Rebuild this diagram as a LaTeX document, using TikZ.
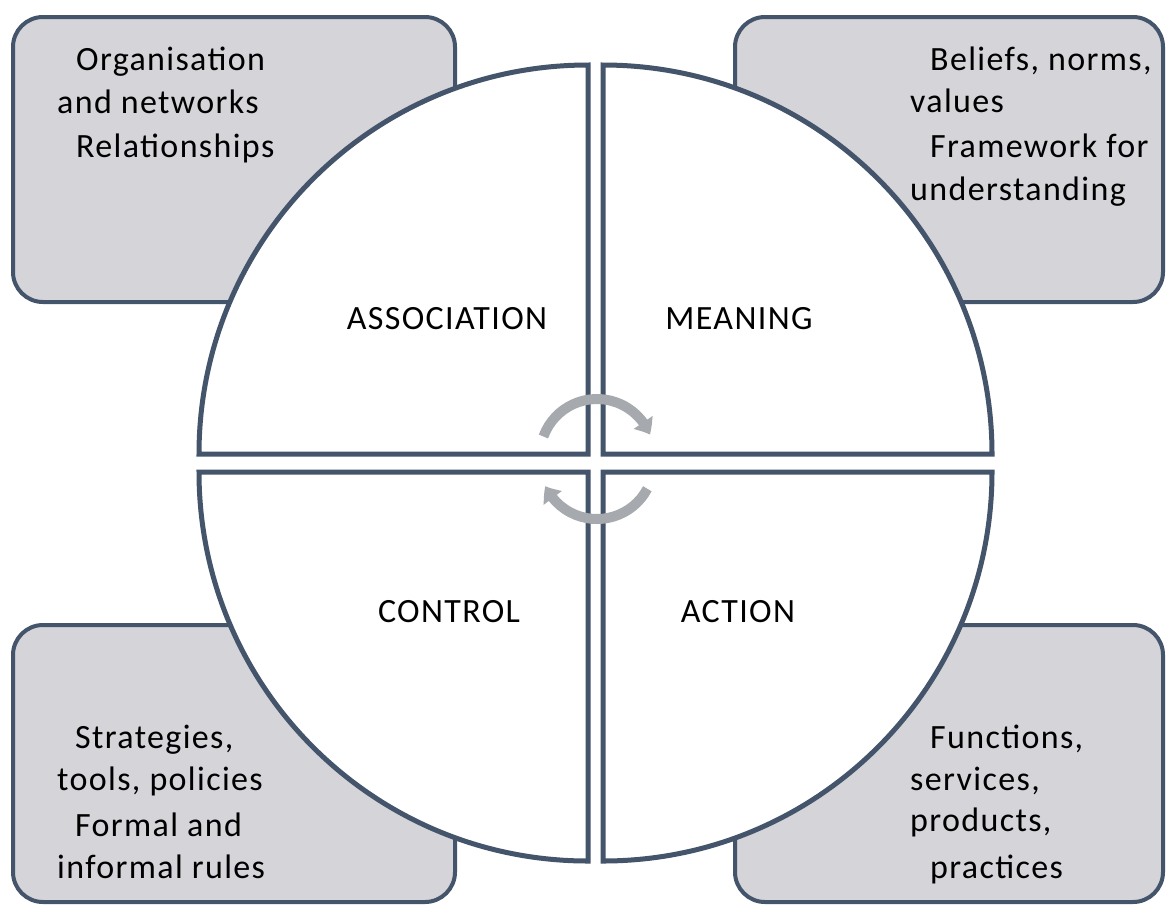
\documentclass[tikz,border=0pt]{standalone}
\usepackage{fontspec}
\setmainfont{Carlito}[LetterSpace=4]
\usetikzlibrary{arrows.meta,bending}
\definecolor{edge}{HTML}{44546A}
\definecolor{panel}{HTML}{D4D4D9}
\definecolor{cyclegray}{HTML}{A6A9AD}
\begin{document}
\begin{tikzpicture}[x=1pt,y=-1pt,
  panelbox/.style={draw=edge,fill=panel,line width=4pt,rounded corners=30pt},
  quarter/.style={draw=edge,fill=white,line width=5pt,line join=miter},
  txtline/.style={anchor=base west,inner sep=0pt,font=\fontsize{34}{42}\selectfont},
  title/.style={anchor=base,inner sep=0pt,font=\fontsize{34}{42}\selectfont},
  turn/.style={draw=cyclegray,line width=10pt,-{Triangle[width=22pt,length=14pt,bend]}}
]
\fill[white] (0,0) rectangle (1166,906);
\useasboundingbox (0,0) rectangle (1166,906);

% corner panels
\path[panelbox] (13,17) rectangle (455,302);
\path[panelbox] (735,17) rectangle (1163,302);
\path[panelbox] (13,625) rectangle (455,902);
\path[panelbox] (735,625) rectangle (1163,902);

% the four quarters of the wheel
\path[quarter] (588,454) -- ++(180:389) arc[start angle=180,end angle=270,radius=389] -- cycle;
\path[quarter] (603,454) -- ++(270:389) arc[start angle=270,end angle=360,radius=389] -- cycle;
\path[quarter] (603,472) -- ++(0:389) arc[start angle=0,end angle=90,radius=389] -- cycle;
\path[quarter] (588,472) -- ++(90:389) arc[start angle=90,end angle=180,radius=389] -- cycle;

% quarter titles
\node[title] (assoc) at (447,329) {ASSOCIATION};
\node[title] (mean) at (739,329) {MEANING};
\node[title] (ctrl) at (449,622) {CONTROL};
\node[title] (act) at (738,622) {ACTION};

% panel texts
\node[txtline] (tl1) at (76,70) {Organisation};
\node[txtline] (tl2) at (57,113) {and networks};
\node[txtline] (tl3) at (76,157) {Relationships};

\node[txtline] (tr1) at (930,70) {Beliefs, norms,};
\node[txtline] (tr2) at (910,112) {values};
\node[txtline] (tr3) at (930,157) {Framework for};
\node[txtline] (tr4) at (910,200) {understanding};

\node[txtline] (bl1) at (75,748) {Strategies,};
\node[txtline] (bl2) at (57,790) {tools, policies};
\node[txtline] (bl3) at (75,836) {Formal and};
\node[txtline] (bl4) at (57,878) {informal rules};

\node[txtline] (br1) at (930,748) {Functions,};
\node[txtline] (br2) at (910,790) {services,};
\node[txtline] (br3) at (910,831) {products,};
\node[txtline] (br4) at (930,878) {practices};

% cycle arrows at the hub
\coordinate (hubtop) at (597,456);
\coordinate (hubbot) at (597,462);
\draw[turn] ([shift={(-160:57)}]hubtop) arc[start angle=-160,end angle=-22,radius=57];
\draw[turn] ([shift={(28:57)}]hubbot) arc[start angle=28,end angle=155,radius=57];
\end{tikzpicture}
\end{document}
